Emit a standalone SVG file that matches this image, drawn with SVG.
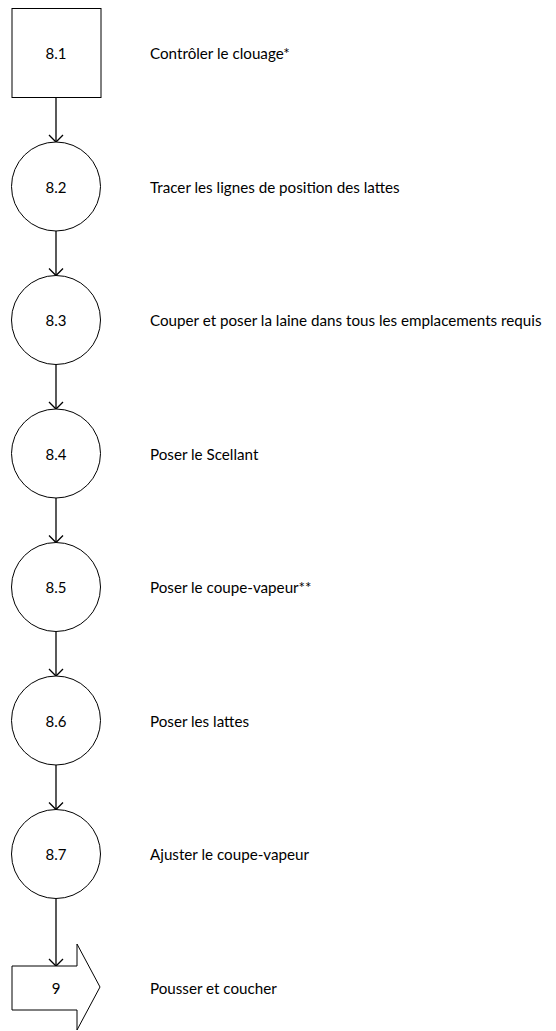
<svg xmlns="http://www.w3.org/2000/svg" width="556" height="1031" viewBox="0 0 556 1031">
  <style>
    .shape { fill: #ffffff; stroke: #000000; stroke-width: 1; }
    .num { font-family: "Lato", "Liberation Sans", sans-serif; font-size: 15px; fill: #000000; text-anchor: middle; dominant-baseline: central; }
    .desc { font-family: "Lato", "Liberation Sans", sans-serif; font-size: 15.2px; fill: #000000; dominant-baseline: central; }
    .flow { stroke: #000000; stroke-width: 1.3; fill: none; }
  </style>
  <defs>
    <marker id="open-arrow" markerWidth="16" markerHeight="16" refX="8" refY="8" orient="auto" markerUnits="userSpaceOnUse">
      <path d="M1,1 L8,8 L1,15" fill="none" stroke="#000000" stroke-width="1.3"/>
    </marker>
  </defs>
  <rect width="556" height="1031" fill="#ffffff"/>

  <!-- connectors between steps -->
  <g id="connectors">
    <line class="flow" x1="56" y1="98" x2="56" y2="142" marker-end="url(#open-arrow)"/>
    <line class="flow" x1="56" y1="231" x2="56" y2="275.5" marker-end="url(#open-arrow)"/>
    <line class="flow" x1="56" y1="364.5" x2="56" y2="409" marker-end="url(#open-arrow)"/>
    <line class="flow" x1="56" y1="498" x2="56" y2="542.5" marker-end="url(#open-arrow)"/>
    <line class="flow" x1="56" y1="631.5" x2="56" y2="676" marker-end="url(#open-arrow)"/>
    <line class="flow" x1="56" y1="765" x2="56" y2="809.5" marker-end="url(#open-arrow)"/>
    <line class="flow" x1="56" y1="898.5" x2="56" y2="966" marker-end="url(#open-arrow)"/>
  </g>

  <g id="step-8-1">
    <rect class="shape" x="12" y="8.5" width="89" height="89"/>
    <text class="num" x="56" y="53">8.1</text>
    <text class="desc" x="150" y="53">Contrôler le clouage*</text>
  </g>

  <g id="step-8-2">
    <circle class="shape" cx="56" cy="186.5" r="44.5"/>
    <text class="num" x="56" y="186.5">8.2</text>
    <text class="desc" x="150" y="186.5">Tracer les lignes de position des lattes</text>
  </g>

  <g id="step-8-3">
    <circle class="shape" cx="56" cy="320" r="44.5"/>
    <text class="num" x="56" y="320">8.3</text>
    <text class="desc" x="150" y="320">Couper et poser la laine dans tous les emplacements requis</text>
  </g>

  <g id="step-8-4">
    <circle class="shape" cx="56" cy="453.5" r="44.5"/>
    <text class="num" x="56" y="453.5">8.4</text>
    <text class="desc" x="150" y="453.5">Poser le Scellant</text>
  </g>

  <g id="step-8-5">
    <circle class="shape" cx="56" cy="587" r="44.5"/>
    <text class="num" x="56" y="587">8.5</text>
    <text class="desc" x="150" y="587">Poser le coupe-vapeur**</text>
  </g>

  <g id="step-8-6">
    <circle class="shape" cx="56" cy="720.5" r="44.5"/>
    <text class="num" x="56" y="720.5">8.6</text>
    <text class="desc" x="150" y="720.5">Poser les lattes</text>
  </g>

  <g id="step-8-7">
    <circle class="shape" cx="56" cy="854" r="44.5"/>
    <text class="num" x="56" y="854">8.7</text>
    <text class="desc" x="150" y="854">Ajuster le coupe-vapeur</text>
  </g>

  <g id="step-9">
    <polygon class="shape" points="12,966 77,966 77,944 100,987 77,1030 77,1010 12,1010"/>
    <text class="num" x="56" y="988">9</text>
    <text class="desc" x="150" y="988">Pousser et coucher</text>
  </g>
</svg>
